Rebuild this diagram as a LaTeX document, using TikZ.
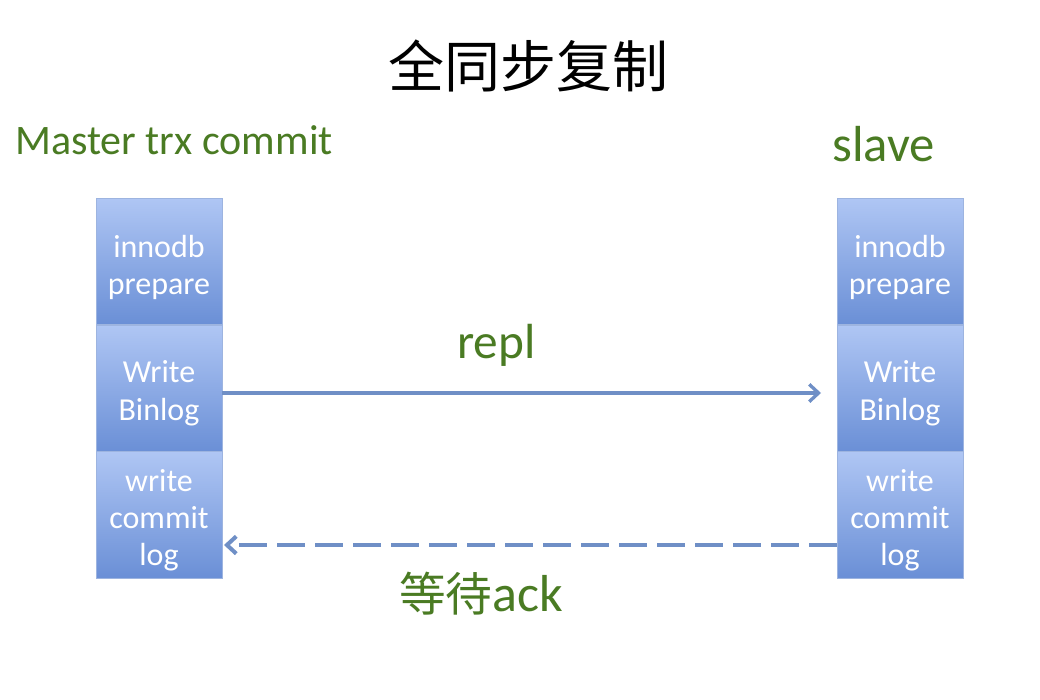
\documentclass[tikz,border=0pt]{standalone}
\usepackage{fontspec}
\setmainfont{Carlito}
\newfontfamily\cjk{Noto Sans CJK SC}
\usetikzlibrary{arrows.meta}
\definecolor{grn}{HTML}{4A7B23}
\definecolor{arr}{HTML}{6F8FC6}
\definecolor{btop}{HTML}{AFC6F4}
\definecolor{bbot}{HTML}{6A8FD6}
\definecolor{bedge}{HTML}{9DB4E0}
\tikzset{
  blk/.style={rectangle, minimum width=94.5pt, minimum height=95pt, inner sep=0pt,
    top color=btop, bottom color=bbot, draw=bedge, line width=0.6pt},
  btxt/.style={text=white, align=center, inner sep=0pt, font=\fontsize{24}{28}\selectfont},
  lbl/.style={text=grn, inner sep=0pt, anchor=base west},
  conn/.style={draw=arr, line width=2.5pt, -{Straight Barb[length=7pt,width=13pt]}}
}
\begin{document}
\begin{tikzpicture}[x=0.75pt,y=-0.75pt]
\useasboundingbox (0,0) rectangle (1040,700);
\node[inner sep=0pt] (title) at (528,66) {\cjk\fontsize{42}{46}\selectfont 全同步复制};
\node[lbl] (mlbl) at (15,154) {\fontsize{31.5}{34}\selectfont Master trx commit};
\node[lbl] (slbl) at (832,161) {\fontsize{38}{40}\selectfont slave};
% left column
\node[blk] (l1) at (159,261.5) {};
\node[blk] (l2) at (159,388.5) {};
\node[blk] (l3) at (159,515) {};
% right column
\node[blk] (r1) at (900,261.5) {};
\node[blk] (r2) at (900,388.5) {};
\node[blk] (r3) at (900,515) {};
\foreach \c in {l,r}{
  \node[btxt] (\c1t) at ([yshift=-4.5pt]\c1.center) {innodb\\prepare};
  \node[btxt] (\c2t) at ([yshift=-3.5pt]\c2.center) {Write\\Binlog};
  \node[btxt] (\c3t) at ([yshift=-4pt]\c3.center) {write\\commit\\log};
}
\coordinate (rtip) at (821,393);
\coordinate (ltip) at (224,545);
\draw[conn] (l2.east |- rtip) -- (rtip);
\draw[conn, line width=3pt, dash pattern=on 21pt off 7.5pt] (r3.west |- ltip) -- (ltip);
\node[lbl] (repl) at (457,358) {\fontsize{37}{40}\selectfont repl};
\node[lbl] (ack) at (399,611) {{\cjk\fontsize{35}{38}\selectfont 等待}\fontsize{39}{42}\selectfont ack};
\end{tikzpicture}
\end{document}
